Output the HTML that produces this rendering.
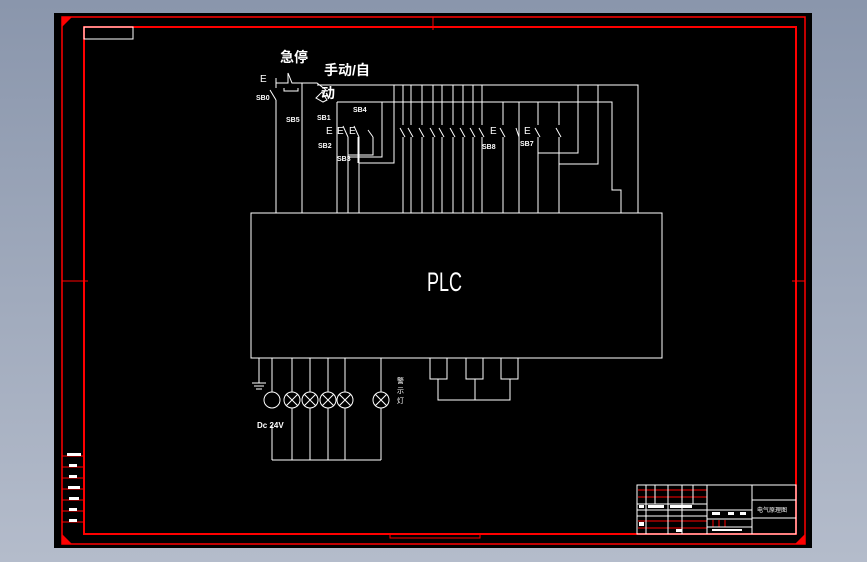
<!DOCTYPE html>
<html><head><style>
body{margin:0;width:867px;height:562px;overflow:hidden;background:linear-gradient(#8a96ac,#b4bccb);font-family:"Liberation Sans","Noto Sans CJK SC",sans-serif}
svg{position:absolute;left:0;top:0}
</style></head><body>
<svg width="867" height="562" viewBox="0 0 867 562">
<rect x="54" y="13" width="758" height="535" fill="#000"/>
<g fill="none" stroke="#f00">
<rect x="62" y="17" width="743" height="527" stroke-width="1.5"/>
<rect x="84" y="27" width="712" height="507" stroke-width="2"/>
<line x1="62" y1="281" x2="88" y2="281"/><line x1="792" y1="281" x2="805" y2="281"/>
<line x1="433" y1="17" x2="433" y2="30"/>
<line x1="62" y1="456" x2="84" y2="456"/><line x1="62" y1="467" x2="84" y2="467"/><line x1="62" y1="478" x2="84" y2="478"/><line x1="62" y1="489" x2="84" y2="489"/><line x1="62" y1="500" x2="84" y2="500"/><line x1="62" y1="511" x2="84" y2="511"/><line x1="62" y1="522" x2="84" y2="522"/>
<rect x="390" y="534" width="90" height="4"/>
<line x1="638" y1="490" x2="707" y2="490"/><line x1="638" y1="497" x2="707" y2="497"/>
<line x1="638" y1="521" x2="707" y2="521"/><line x1="638" y1="528" x2="707" y2="528"/>
<line x1="713" y1="520" x2="713" y2="527"/><line x1="719" y1="520" x2="719" y2="527"/><line x1="725" y1="520" x2="725" y2="527"/>
</g>
<polygon points="62,17 72,17 62,27" fill="#f00"/><polygon points="62,544 72,544 62,534" fill="#f00"/><polygon points="805,544 795,544 805,534" fill="#f00"/>
<g fill="none" stroke="#fff" stroke-width="1">
<rect x="84" y="27" width="49" height="12"/>
<rect x="251" y="213" width="411" height="145"/>
<polyline points="317,85 638,85 638,213"/>
<polyline points="337,102 612,102 612,190 621,190 621,213"/>
<polyline points="276,78 276,88"/><line x1="270" y1="90" x2="276" y2="100"/><line x1="276" y1="100" x2="276" y2="213"/>
<polyline points="276,83 288,83 288,73 292,83 317,83 326,90"/>
<polyline points="284,88 284,91 298,91 298,88"/>
<line x1="302" y1="83" x2="302" y2="213"/>
<path d="M316 98 l6 -6 l5 8 l-4 2 z"/>
<g>
<line x1="337" y1="102" x2="337" y2="213"/>
<polyline points="348,137 348,213"/><polyline points="359,137 359,213"/>
<line x1="343" y1="126" x2="348" y2="137"/><line x1="354" y1="126" x2="359" y2="137"/><line x1="368" y1="130" x2="373" y2="137"/>
<polyline points="373,137 373,155 348,155"/><polyline points="382,102 382,157 348,157"/>
<polyline points="394,85 394,163 359,163"/>
<polyline points="358,137 358,163"/>
</g>
<g>
<line x1="403" y1="85" x2="403" y2="125"/><line x1="403" y1="137" x2="403" y2="213"/><line x1="400" y1="128" x2="405" y2="137"/>
<line x1="411" y1="85" x2="411" y2="125"/><line x1="411" y1="137" x2="411" y2="213"/><line x1="408" y1="128" x2="413" y2="137"/>
<line x1="422" y1="85" x2="422" y2="125"/><line x1="422" y1="137" x2="422" y2="213"/><line x1="419" y1="128" x2="424" y2="137"/>
<line x1="433" y1="85" x2="433" y2="125"/><line x1="433" y1="137" x2="433" y2="213"/><line x1="430" y1="128" x2="435" y2="137"/>
<line x1="442" y1="85" x2="442" y2="125"/><line x1="442" y1="137" x2="442" y2="213"/><line x1="439" y1="128" x2="444" y2="137"/>
<line x1="453" y1="85" x2="453" y2="125"/><line x1="453" y1="137" x2="453" y2="213"/><line x1="450" y1="128" x2="455" y2="137"/>
<line x1="463" y1="85" x2="463" y2="125"/><line x1="463" y1="137" x2="463" y2="213"/><line x1="460" y1="128" x2="465" y2="137"/>
<line x1="473" y1="85" x2="473" y2="125"/><line x1="473" y1="137" x2="473" y2="213"/><line x1="470" y1="128" x2="475" y2="137"/>
<line x1="482" y1="85" x2="482" y2="125"/><line x1="482" y1="137" x2="482" y2="213"/><line x1="479" y1="128" x2="484" y2="137"/>
<line x1="503" y1="102" x2="503" y2="125"/><line x1="503" y1="137" x2="503" y2="213"/><line x1="500" y1="128" x2="505" y2="137"/>
<line x1="519" y1="102" x2="519" y2="213"/><line x1="516" y1="128" x2="519" y2="137"/>
<line x1="538" y1="102" x2="538" y2="125"/><line x1="538" y1="137" x2="538" y2="213"/><line x1="535" y1="128" x2="540" y2="137"/>
<line x1="559" y1="102" x2="559" y2="125"/><line x1="559" y1="137" x2="559" y2="213"/><line x1="556" y1="128" x2="561" y2="137"/>
<polyline points="538,153 578,153 578,85"/><polyline points="559,164 598,164 598,85"/>
</g>
<line x1="259" y1="358" x2="259" y2="383"/><line x1="252" y1="383" x2="266" y2="383"/><line x1="254" y1="386" x2="264" y2="386"/><line x1="256" y1="389" x2="262" y2="389"/>
<line x1="272" y1="358" x2="272" y2="392"/><circle cx="272" cy="400" r="8"/>
<line x1="272" y1="425" x2="272" y2="460"/>
<polyline points="272,460 381,460"/>
<g>
<line x1="292" y1="358" x2="292" y2="460"/><line x1="310" y1="358" x2="310" y2="460"/><line x1="328" y1="358" x2="328" y2="460"/><line x1="345" y1="358" x2="345" y2="460"/><line x1="381" y1="358" x2="381" y2="460"/>
</g>
<g fill="#000">
<circle cx="292" cy="400" r="8"/><circle cx="310" cy="400" r="8"/><circle cx="328" cy="400" r="8"/><circle cx="345" cy="400" r="8"/><circle cx="381" cy="400" r="8"/>
</g>
<path d="M286 394l12 12M298 394l-12 12M304 394l12 12M316 394l-12 12M322 394l12 12M334 394l-12 12M339 394l12 12M351 394l-12 12M375 394l12 12M387 394l-12 12"/>
<polyline points="430,358 430,379 447,379 447,358"/><polyline points="466,358 466,379 483,379 483,358"/><polyline points="501,358 501,379 518,379 518,358"/>
<polyline points="438,379 438,400 510,400 510,379"/><line x1="475" y1="379" x2="475" y2="400"/>
<rect x="637" y="485" width="159" height="49"/>
<line x1="707" y1="485" x2="707" y2="534"/><line x1="752" y1="485" x2="752" y2="534"/>
<line x1="752" y1="500" x2="796" y2="500"/><line x1="752" y1="518" x2="796" y2="518"/>
<line x1="707" y1="510" x2="752" y2="510"/><line x1="707" y1="519" x2="752" y2="519"/><line x1="707" y1="527" x2="752" y2="527"/>
<line x1="637" y1="504" x2="707" y2="504"/><line x1="637" y1="510" x2="707" y2="510"/><line x1="637" y1="516" x2="707" y2="516"/>
<line x1="646" y1="485" x2="646" y2="534"/><line x1="655" y1="485" x2="655" y2="504"/><line x1="668" y1="485" x2="668" y2="534"/><line x1="682" y1="485" x2="682" y2="534"/><line x1="693" y1="485" x2="693" y2="504"/>
</g>
<g fill="#fff" font-family="Liberation Sans, Noto Sans CJK SC, sans-serif">
<text transform="translate(427,291) scale(0.75,1.1)" font-size="24">PLC</text>
<text x="280" y="62" font-size="14" font-weight="bold">急停</text>
<text x="324" y="75" font-size="14" font-weight="bold">手动/自</text>
<text x="321" y="98" font-size="14" font-weight="bold">动</text>
<text x="260" y="82" font-size="10">E</text>
<text x="256" y="100" font-size="7" font-weight="bold">SB0</text>
<text x="286" y="122" font-size="7" font-weight="bold">SB5</text>
<text x="317" y="120" font-size="7" font-weight="bold">SB1</text>
<text x="353" y="112" font-size="7" font-weight="bold">SB4</text>
<text x="318" y="148" font-size="7" font-weight="bold">SB2</text>
<text x="337" y="161" font-size="7" font-weight="bold">SB3</text>
<text x="482" y="149" font-size="7" font-weight="bold">SB8</text>
<text x="520" y="146" font-size="7" font-weight="bold">SB7</text>
<text x="326" y="134" font-size="10">E</text><text x="337" y="134" font-size="10">E</text><text x="349" y="134" font-size="10">E</text>
<text x="490" y="134" font-size="10">E</text><text x="524" y="134" font-size="10">E</text>
<text x="257" y="428" font-size="8" font-weight="bold">Dc 24V</text>
<text x="397" y="383" font-size="7">警</text><text x="397" y="393" font-size="7">示</text><text x="397" y="403" font-size="7">灯</text>
<text x="757" y="512" font-size="6">电气原理图</text>
</g>
<g fill="#fff">
<rect x="67" y="453" width="14" height="3"/><rect x="69" y="464" width="8" height="3"/><rect x="69" y="475" width="8" height="3"/><rect x="68" y="486" width="12" height="3"/><rect x="69" y="497" width="10" height="3"/><rect x="69" y="508" width="8" height="3"/><rect x="69" y="519" width="8" height="3"/>
<rect x="639" y="505" width="5" height="3"/><rect x="648" y="505" width="16" height="3"/><rect x="670" y="505" width="22" height="3"/><rect x="639" y="522" width="5" height="4"/><rect x="676" y="529" width="6" height="3"/>
<rect x="712" y="512" width="8" height="3"/><rect x="728" y="512" width="6" height="3"/><rect x="740" y="512" width="6" height="3"/><rect x="712" y="529" width="30" height="2"/>
</g>
</svg>
</body></html>
